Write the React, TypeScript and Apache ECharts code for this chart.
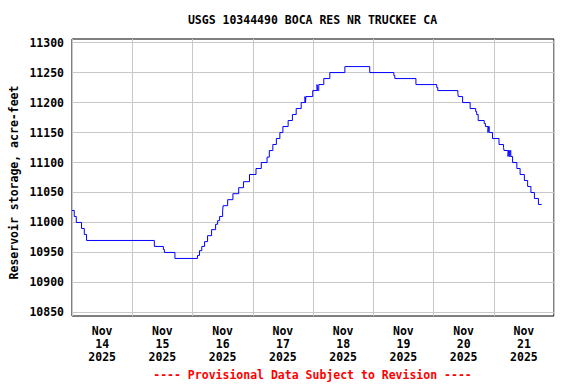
import React, { useEffect, useRef } from "react";
import * as echarts from "echarts";

// Hours since Nov 14 2025 00:00 at which the storage value changes
const hoursSinceNov14: number[] = [
  0.0, 0.9, 1.7, 3.8, 4.9, 5.8, 32.8, 36.4, 36.8, 41.0,
  50.0, 50.8, 51.7, 52.8, 54.0, 55.6, 57.2, 58.0, 58.8, 60.0,
  60.2, 62.0, 64.1, 66.4, 68.3, 70.7, 73.3, 75.4, 77.7, 78.6,
  80.0, 81.4, 82.8, 84.0, 86.1, 87.8, 89.3, 91.3, 92.8, 93.0,
  93.2, 95.9, 97.6, 97.8, 98.3, 100.3, 102.7, 108.7, 118.6, 128.2,
  128.6, 137.0, 145.3, 145.7, 153.7, 153.9, 155.6, 158.6, 160.8, 161.2,
  161.8, 164.2, 164.7, 165.7, 165.9, 166.2, 167.5, 170.1, 171.9, 172.1,
  173.7, 173.9, 174.2, 174.5, 174.8, 175.5, 177.2, 178.5, 180.2, 181.5,
  182.8, 184.2, 185.8, 187.1,
];

// Reservoir storage, acre-feet
const storageAcreFeet: number[] = [
  11020, 11010, 11000, 10990, 10980, 10970, 10960, 10955, 10950, 10940,
  10945, 10953, 10960, 10968, 10978, 10988, 10997, 11003, 11010, 11019,
  11028, 11038, 11048, 11058, 11068, 11080, 11090, 11100, 11109, 11120,
  11130, 11140, 11150, 11160, 11170, 11180, 11190, 11200, 11210, 11200,
  11210, 11220, 11230, 11220, 11230, 11240, 11250, 11260, 11250, 11245,
  11240, 11230, 11225, 11220, 11215, 11210, 11200, 11190, 11185, 11180,
  11170, 11165, 11160, 11150, 11160, 11150, 11140, 11130, 11125, 11120,
  11110, 11120, 11110, 11120, 11110, 11100, 11090, 11080, 11070, 11060,
  11050, 11040, 11030, 11030,
];

const dayLabels: string[] = [
  "Nov\n14\n2025", "Nov\n15\n2025", "Nov\n16\n2025", "Nov\n17\n2025",
  "Nov\n18\n2025", "Nov\n19\n2025", "Nov\n20\n2025", "Nov\n21\n2025",
];

const yTicks: number[] = [10850, 10900, 10950, 11000, 11050, 11100, 11150, 11200, 11250, 11300];

const titleText = "USGS 10344490 BOCA RES NR TRUCKEE CA";
const yName = "Reservoir storage, acre-feet";
const footerText = "---- Provisional Data Subject to Revision ----";

const FONT = "'DejaVu Sans Mono', 'Liberation Mono', monospace";

export default function App() {
  const ref = useRef<HTMLDivElement>(null);
  useEffect(() => {
    if (!ref.current) return;
    const chart = echarts.init(ref.current, undefined, { renderer: "svg" });
    const data = hoursSinceNov14.map((h, i) => [h, storageAcreFeet[i]]);
    chart.setOption({
      animation: false,
      backgroundColor: "#ffffff",
      grid: {
        left: 72,
        right: 22,
        top: 39,
        bottom: 68,
        show: true,
        borderColor: "#000000",
        borderWidth: 1,
        backgroundColor: "transparent",
      },
      xAxis: [
        {
          type: "value",
          min: 0,
          max: 192,
          interval: 24,
          axisLine: { show: false },
          axisTick: { show: false },
          axisLabel: { show: false },
          splitLine: { show: true, lineStyle: { color: "#c8c8c8", width: 1 } },
        },
        {
          type: "category",
          data: dayLabels,
          position: "bottom",
          boundaryGap: true,
          axisLine: { show: false },
          axisTick: { show: false },
          splitLine: { show: false },
          axisLabel: {
            margin: 9,
            color: "#000",
            fontFamily: FONT,
            fontWeight: "bold",
            fontSize: 11.5,
            lineHeight: 12.8,
            align: "center",
          },
        },
      ],
      yAxis: {
        type: "value",
        min: 10844,
        max: 11306,
        axisLine: { show: false },
        axisTick: { show: false, customValues: yTicks },
        axisLabel: {
          customValues: yTicks,
          formatter: (v: number) => String(v),
          margin: 8,
          color: "#000",
          fontFamily: FONT,
          fontWeight: "bold",
          fontSize: 11.5,
        },
        splitLine: { show: true, lineStyle: { color: "#c8c8c8", width: 1 } },
      },
      graphic: [
        {
          type: "text",
          x: 312.5,
          y: 20,
          style: {
            text: titleText,
            font: `bold 11.5px ${FONT}`,
            fill: "#000",
            textAlign: "center",
            textVerticalAlign: "middle",
          },
        },
        {
          type: "text",
          x: 14,
          y: 182.5,
          rotation: Math.PI / 2,
          style: {
            text: yName,
            font: `bold 11.5px ${FONT}`,
            fill: "#000",
            textAlign: "center",
            textVerticalAlign: "middle",
          },
        },
        {
          type: "text",
          x: 312.5,
          y: 375,
          style: {
            text: footerText,
            font: `bold 11.5px ${FONT}`,
            fill: "#ff0000",
            textAlign: "center",
            textVerticalAlign: "middle",
          },
        },
      ],
      series: [
        {
          type: "line",
          xAxisIndex: 0,
          yAxisIndex: 0,
          data,
          step: "end",
          showSymbol: false,
          symbol: "none",
          lineStyle: { color: "#0000ff", width: 1 },
        },
      ],
    });
    return () => chart.dispose();
  }, []);
  return (
    <div
      ref={ref}
      style={{ position: "fixed", left: 0, top: 0, width: 576, height: 384 }}
    />
  );
}
